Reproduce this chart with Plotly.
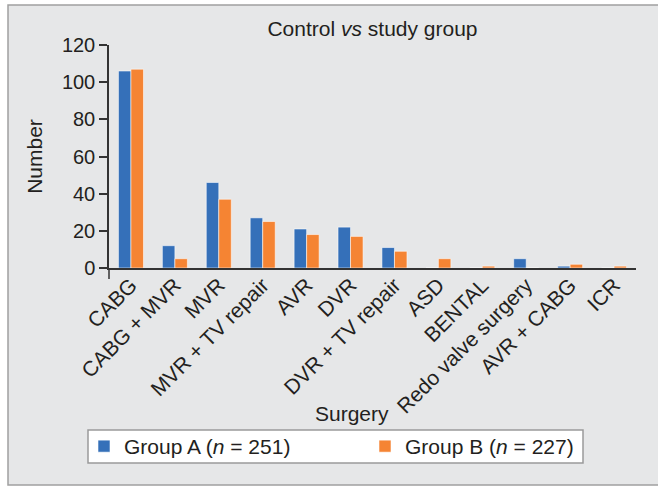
import plotly.graph_objects as go

categories = ["CABG", "CABG + MVR", "MVR", "MVR + TV repair", "AVR", "DVR",
              "DVR + TV repair", "ASD", "BENTAL", "Redo valve surgery",
              "AVR + CABG", "ICR"]
group_a = [106, 12, 46, 27, 21, 22, 11, 0, 0, 5, 1, 0]
group_b = [107, 5, 37, 25, 18, 17, 9, 5, 1, 0, 2, 1]
y_ticks = [0, 20, 40, 60, 80, 100, 120]

FONT = "Liberation Sans, Arial, sans-serif"
TXT = "#231f20"

# plot area pixels
L, R, T, B = 109, 636, 45, 268
W, H = 658, 487
pw, ph = R - L, B - T
def px(x):
    return (x - L) / pw
def py(y):
    return (B - y) / ph

fig = go.Figure()
fig.add_trace(go.Bar(x=categories, y=group_a, name="Group A (<i>n</i> = 251)", legend="legend",
                     marker=dict(color="#3570b9", line=dict(color="rgba(255,255,255,0.55)", width=1))))
fig.add_trace(go.Bar(x=categories, y=group_b, name="Group B (<i>n</i> = 227)", legend="legend2",
                     marker=dict(color="#f58433", line=dict(color="rgba(255,255,255,0.55)", width=1))))

leg_common = dict(orientation="h", xanchor="left", yanchor="middle", y=py(446.5),
                  bgcolor="rgba(0,0,0,0)", borderwidth=0,
                  font=dict(size=21, color=TXT), itemclick=False, itemdoubleclick=False)

fig.update_layout(
    width=W, height=H,
    margin=dict(l=L, r=W - R, t=T, b=H - B, autoexpand=False),
    paper_bgcolor="white", plot_bgcolor="white",
    barmode="group", bargap=0.43, bargroupgap=0,
    font=dict(family=FONT, size=20, color=TXT),
    title=dict(text="Control <i>vs</i> study group", x=0.5, xref="paper", xanchor="center",
               y=1 - 29 / H, yanchor="middle", font=dict(size=21, color=TXT)),
    showlegend=True,
    legend=dict(x=px(84), **leg_common),
    legend2=dict(x=px(365), **leg_common),
    shapes=[
        dict(type="rect", xref="paper", yref="paper", layer="below",
             x0=px(8), x1=px(W + 5), y0=py(485), y1=py(5),
             fillcolor="#e6e7e8", line=dict(color="#a0a0a0", width=1.5)),
        dict(type="rect", xref="paper", yref="paper", layer="below",
             x0=px(88), x1=px(583), y0=py(463), y1=py(430),
             fillcolor="white", line=dict(color="#9a9a9a", width=1.5)),
        dict(type="line", xref="paper", yref="paper",
             x0=0, x1=0, y0=0, y1=py(279), line=dict(color="#333333", width=1.5)),
    ],
    annotations=[
        dict(text="Surgery", xref="paper", yref="paper", x=px(351.5), y=py(413),
             xanchor="center", yanchor="middle", showarrow=False,
             font=dict(size=21, color=TXT)),
    ],
)
fig.update_xaxes(
    tickangle=-45, showline=True, linecolor="#333333", linewidth=1.5,
    ticks="", tickfont=dict(size=21, color=TXT), ticklabelstandoff=-5,
    fixedrange=True,
)
fig.update_yaxes(
    range=[0, 120], tickvals=y_ticks, ticktext=[str(v) for v in y_ticks],
    showline=True, linecolor="#333333", linewidth=1.5, showgrid=False, zeroline=False,
    ticks="outside", ticklen=8, tickcolor="#333333", tickwidth=1.5,
    tickfont=dict(size=20, color=TXT),
    title=dict(text="Number", font=dict(size=21, color=TXT), standoff=14),
    fixedrange=True,
)

fig.write_html("out.html", config={"displayModeBar": False},
               post_script="document.body.style.margin='0px';")
